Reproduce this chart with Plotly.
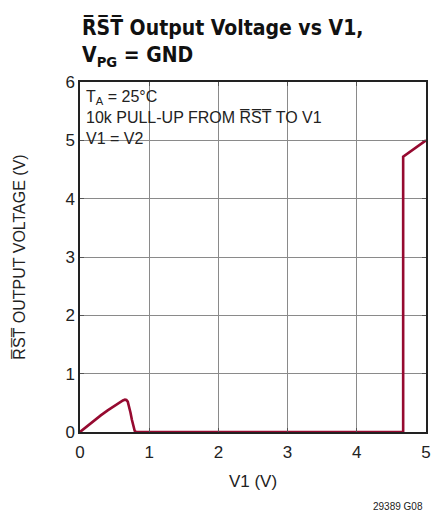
import plotly.graph_objects as go

v1 = [0, 0.1, 0.2, 0.3, 0.4, 0.5, 0.58, 0.62, 0.65, 0.67, 0.69, 0.71, 0.73, 0.75, 0.77, 0.79, 0.81, 4.67, 4.67, 5.0]
vout = [0, 0.10, 0.195, 0.285, 0.37, 0.45, 0.515, 0.54, 0.555, 0.55, 0.52, 0.44, 0.33, 0.21, 0.10, 0.02, 0.0, 0.0, 4.72, 5.0]

x_ticks = [0, 1, 2, 3, 4, 5]
y_ticks = [0, 1, 2, 3, 4, 5, 6]

FONT = "DejaVu Sans Condensed, Liberation Sans Narrow, Liberation Sans, Arial"
TFONT = "Liberation Sans, Arial"
RED = "#960a30"

fig = go.Figure()
fig.add_trace(go.Scatter(x=v1, y=vout, mode="lines",
                         line=dict(color=RED, width=2.6),
                         showlegend=False, hoverinfo="skip"))

axis_common = dict(showgrid=True, gridcolor="#8a8a8a", gridwidth=1,
                   showline=True, linecolor="#222", linewidth=1.5, mirror="ticks",
                   ticks="inside", ticklen=4, tickcolor="#555", zeroline=False,
                   layer="above traces",
                   tickfont=dict(family=TFONT, size=17, color="#222"))

fig.update_xaxes(range=[0, 5], tickvals=x_ticks, ticklabelstandoff=4, **axis_common,
                 title=dict(text="V1 (V)", font=dict(family=TFONT, size=17, color="#222"), standoff=14))
fig.update_yaxes(range=[0, 6], tickvals=y_ticks, **axis_common,
                 title=dict(text="R\u0305S\u0305T\u0305 OUTPUT VOLTAGE (V)",
                            font=dict(family=TFONT, size=16, color="#222"), standoff=36))

# white box behind the note text
fig.add_shape(type="rect", xref="x", yref="y", x0=0, x1=3.54, y0=4.75, y1=6,
              fillcolor="white", line=dict(width=0), layer="below")

notes = ["T<sub>A</sub> = 25°C", "10k PULL-UP FROM R\u0305S\u0305T\u0305 TO V1", "V1 = V2"]
fig.add_annotation(xref="paper", yref="paper", x=0.012, y=0.99, xanchor="left", yanchor="top",
                   text="<br>".join(notes), showarrow=False, align="left",
                   font=dict(family=TFONT, size=16, color="#222"))

fig.add_annotation(xref="paper", yref="paper", x=0.0, y=1.196, xanchor="left", yanchor="top",
                   text="<b>R\u0305S\u0305T\u0305 Output Voltage vs V1,<br>V<sub>PG</sub> = GND</b>",
                   showarrow=False, align="left",
                   font=dict(family=FONT, size=21, color="#111"))

fig.add_annotation(xref="paper", yref="paper", x=0.997, y=-0.214, xanchor="right", yanchor="middle",
                   text="29389 G08", showarrow=False,
                   font=dict(family=TFONT, size=10, color="#222"))

fig.update_layout(width=435, height=517, autosize=False,
                  margin=dict(l=80, r=4, t=82, b=85),
                  paper_bgcolor="white", plot_bgcolor="white")

fig.write_html("out.html", config={"displayModeBar": False},
               post_script="document.body.style.margin='0';")
